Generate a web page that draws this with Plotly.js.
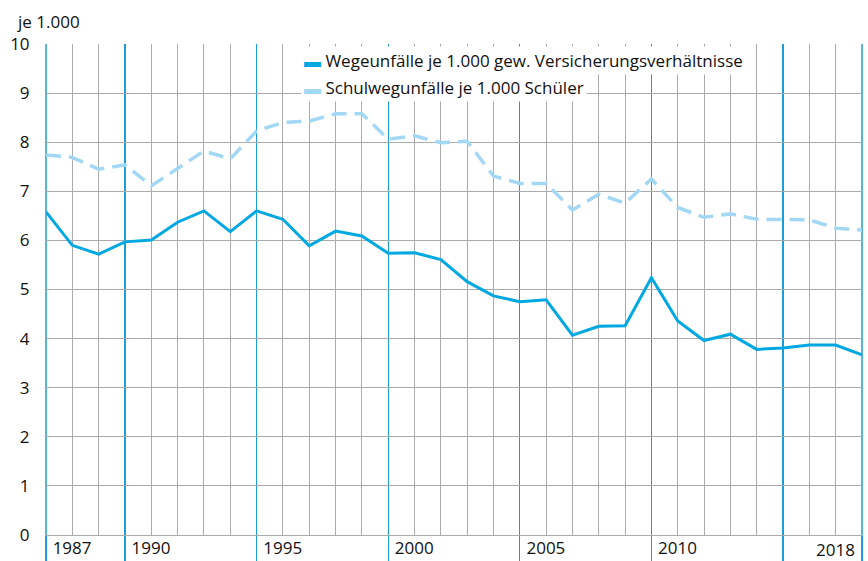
<!DOCTYPE html>
<html>
<head>
<meta charset="utf-8">
<script src="https://cdn.plot.ly/plotly-3.0.1.min.js"></script>
<style>html,body{margin:0;padding:0;background:#fff;}#chart{width:868px;height:561px;}</style>
</head>
<body>
<div id="chart"></div>
<script>
// Data
const years = [1987,1988,1989,1990,1991,1992,1993,1994,1995,1996,1997,1998,1999,2000,2001,2002,
               2003,2004,2005,2006,2007,2008,2009,2010,2011,2012,2013,2014,2015,2016,2017,2018];
const wegeunfaelle = [6.58,5.90,5.72,5.97,6.01,6.37,6.60,6.18,6.60,6.43,5.89,6.19,6.09,5.74,5.75,5.61,
                      5.16,4.87,4.75,4.79,4.07,4.25,4.26,5.24,4.36,3.96,4.09,3.78,3.81,3.87,3.87,3.67];
const schulwegunfaelle = [7.74,7.69,7.45,7.54,7.11,7.47,7.82,7.66,8.23,8.40,8.43,8.58,8.58,8.06,8.13,7.99,
                          8.02,7.31,7.16,7.16,6.62,6.94,6.76,7.25,6.67,6.47,6.54,6.43,6.42,6.42,6.25,6.21];
const majorYears = [1987,1990,1995,2000,2005,2010,2015,2018];
const majorLabels = ['1987','1990','1995','2000','2005','2010','',''];
const lastLabel = '2018';
const seriesNames = ['Wegeunfälle je 1.000 gew. Versicherungsverhältnisse','Schulwegunfälle je 1.000 Schüler'];
const unitLabel = 'je 1.000';

const C_SOLID = '#00a8e2';
const C_DASH = '#a3d8f5';
const C_BLUE = '#1b9dd9';
const C_GRID = '#ababab';
const FONT = '"Open Sans", "Noto Sans", sans-serif';

const traces = [
  {x: years, y: schulwegunfaelle, type: 'scatter', mode: 'lines', name: seriesNames[1],
   line: {color: C_DASH, width: 3.5, dash: '15px,8px'}, showlegend: false, hoverinfo: 'x+y'},
  {x: years, y: wegeunfaelle, type: 'scatter', mode: 'lines', name: seriesNames[0],
   line: {color: C_SOLID, width: 3}, showlegend: false, hoverinfo: 'x+y'}
];

const layout = {
  width: 868, height: 561,
  margin: {l: 46, r: 6, t: 44, b: 26, pad: 0},
  paper_bgcolor: '#fff', plot_bgcolor: '#fff',
  font: {family: FONT, size: 17, color: '#111'},
  showlegend: false,
  xaxis: {
    range: [1987, 2018], fixedrange: true,
    tickmode: 'array', tickvals: majorYears, ticktext: majorLabels,
    ticklabelposition: 'outside right', ticklabelshift: 6, ticklabelstandoff: -2,
    showgrid: true, gridcolor: C_BLUE, gridwidth: 1.3,
    ticks: 'outside', ticklen: 26, tickcolor: C_BLUE, tickwidth: 1.3,
    tickfont: {family: FONT, size: 17, color: '#111'},
    minor: {tickmode: 'linear', tick0: 1987, dtick: 1, showgrid: true, gridcolor: C_GRID, gridwidth: 1, ticks: ''},
    zeroline: false, showline: false
  },
  yaxis: {
    range: [0, 10], fixedrange: true,
    tickmode: 'linear', tick0: 0, dtick: 1,
    showgrid: true, gridcolor: C_GRID, gridwidth: 1,
    zeroline: true, zerolinecolor: C_GRID, zerolinewidth: 1,
    ticks: 'outside', ticklen: 12, tickcolor: 'rgba(0,0,0,0)',
    tickfont: {family: FONT, size: 17, color: '#111'},
    showline: false
  },
  shapes: [
    {type: 'line', xref: 'paper', yref: 'paper', x0: 0, x1: 0, y0: -0.06, y1: 1, line: {color: C_BLUE, width: 1.5}, layer: 'below'},
    {type: 'line', xref: 'paper', yref: 'paper', x0: 1, x1: 1, y0: -0.06, y1: 1, line: {color: C_BLUE, width: 1.5}, layer: 'below'}
  ],
  annotations: [
    {text: unitLabel, xref: 'paper', yref: 'paper', x: -0.038, y: 1.046, xanchor: 'left', yanchor: 'middle',
     showarrow: false, font: {family: FONT, size: 17, color: '#111'}},
    {text: lastLabel, xref: 'x', yref: 'paper', x: 2018, y: -0.029, xanchor: 'right', yanchor: 'middle', xshift: -6,
     borderpad: 0, showarrow: false, font: {family: FONT, size: 17, color: '#111'}},
    {text: '<span style="color:' + C_SOLID + '">▬</span> ' + seriesNames[0], xref: 'paper', yref: 'paper',
     x: 0.3125, y: 0.9654, xanchor: 'left', yanchor: 'middle', showarrow: false, bgcolor: '#fff', borderpad: 2,
     font: {family: FONT, size: 17, color: '#111'}},
    {text: '<span style="color:' + C_DASH + '">▬</span> ' + seriesNames[1], xref: 'paper', yref: 'paper',
     x: 0.3125, y: 0.9104, xanchor: 'left', yanchor: 'middle', showarrow: false, bgcolor: '#fff', borderpad: 2,
     font: {family: FONT, size: 17, color: '#111'}}
  ]
};

Plotly.newPlot('chart', traces, layout, {displayModeBar: false, staticPlot: true});
</script>
</body>
</html>
